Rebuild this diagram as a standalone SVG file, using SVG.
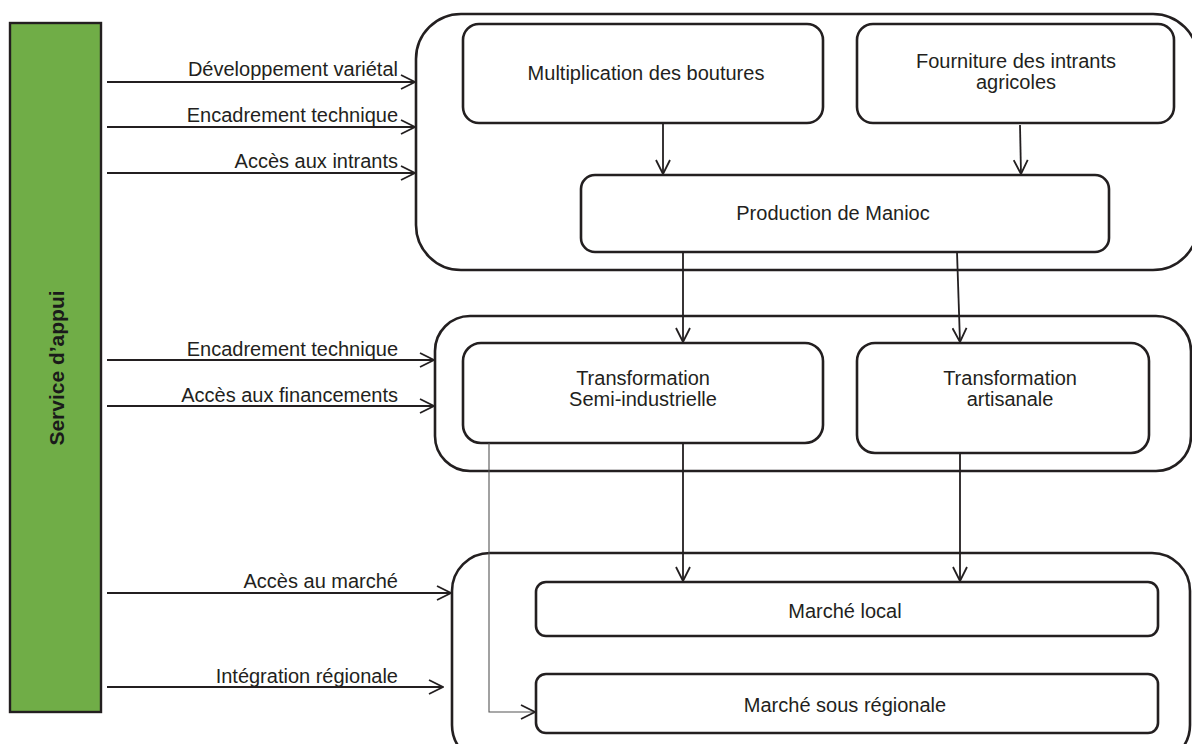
<svg xmlns="http://www.w3.org/2000/svg" width="1192" height="744" viewBox="0 0 1192 744">
<defs>
<style>
.box{fill:#fff;stroke:#231f20;stroke-width:2.6}
.cont{fill:#fff;stroke:#231f20;stroke-width:2.6}
.t{font-family:"Liberation Sans",Arial,sans-serif;font-size:20px;fill:#231f20}
.lbl{font-family:"Liberation Sans",Arial,sans-serif;font-size:20px;fill:#231f20;text-anchor:end}
.c{text-anchor:middle}
.ln{fill:none;stroke:#231f20;stroke-width:1.8}
.thin{fill:none;stroke:#555;stroke-width:1.1}
</style>
<marker id="ah" viewBox="0 0 16 16" refX="15" refY="8" markerWidth="16" markerHeight="16" markerUnits="userSpaceOnUse" orient="auto">
<path d="M1,1 L15,8 L1,15" fill="none" stroke="#231f20" stroke-width="1.8"/>
</marker>
</defs>
<rect width="1192" height="744" fill="#fff"/>

<g id="service">
<rect x="10" y="23" width="91" height="689" fill="#70ad47" stroke="#231f20" stroke-width="2.4"/>
<text transform="translate(64,368) rotate(-90)" class="c" font-family="Liberation Sans,Arial,sans-serif" font-size="21" font-weight="bold" fill="#1a1a1a">Service d’appui</text>
</g>

<g id="production-group">
<rect class="cont" x="416" y="14" width="782" height="256" rx="45"/>
</g>
<g id="multiplication">
<rect class="box" x="463" y="24" width="360" height="99" rx="16"/>
<text class="t c" x="646" y="80">Multiplication des boutures</text>
</g>
<g id="fourniture">
<rect class="box" x="857" y="24" width="317" height="99" rx="16"/>
<text class="t c" x="1016" y="68">Fourniture des intrants</text>
<text class="t c" x="1016" y="89">agricoles</text>
</g>
<g id="production">
<rect class="box" x="581" y="175" width="528" height="77" rx="14"/>
<text class="t c" x="833" y="220">Production de Manioc</text>
</g>

<g id="transformation-group">
<rect class="cont" x="435" y="316" width="756" height="155" rx="35"/>
</g>
<g id="semi">
<rect class="box" x="463" y="343" width="360" height="100" rx="18"/>
<text class="t c" x="643" y="385">Transformation</text>
<text class="t c" x="643" y="406">Semi-industrielle</text>
</g>
<g id="artisanale">
<rect class="box" x="857" y="343" width="292" height="110" rx="18"/>
<text class="t c" x="1010" y="385">Transformation</text>
<text class="t c" x="1010" y="406">artisanale</text>
</g>

<g id="marche-group">
<rect class="cont" x="452" y="553" width="738" height="210" rx="38"/>
</g>
<g id="marche-local">
<rect class="box" x="536" y="582" width="622" height="54" rx="10"/>
<text class="t c" x="845" y="618">Marché local</text>
</g>
<g id="marche-sous">
<rect class="box" x="536" y="674" width="622" height="59" rx="10"/>
<text class="t c" x="845" y="712">Marché sous régionale</text>
</g>

<g id="connectors">
<line class="ln" x1="107" y1="82" x2="415" y2="82" marker-end="url(#ah)"/>
<line class="ln" x1="107" y1="127" x2="415" y2="127" marker-end="url(#ah)"/>
<line class="ln" x1="107" y1="173" x2="415" y2="173" marker-end="url(#ah)"/>
<line class="ln" x1="107" y1="360" x2="434" y2="360" marker-end="url(#ah)"/>
<line class="ln" x1="107" y1="406" x2="434" y2="406" marker-end="url(#ah)"/>
<line class="ln" x1="107" y1="593" x2="451" y2="593" marker-end="url(#ah)"/>
<line class="ln" x1="107" y1="687" x2="443" y2="687" marker-end="url(#ah)"/>
<line class="ln" x1="663" y1="123" x2="663" y2="174" marker-end="url(#ah)"/>
<line class="ln" x1="1020" y1="125" x2="1021" y2="174" marker-end="url(#ah)"/>
<line class="ln" x1="683" y1="252" x2="683" y2="342" marker-end="url(#ah)"/>
<line class="ln" x1="957" y1="252" x2="960" y2="342" marker-end="url(#ah)"/>
<line class="ln" x1="683" y1="443" x2="683" y2="581" marker-end="url(#ah)"/>
<line class="ln" x1="960" y1="453" x2="960" y2="581" marker-end="url(#ah)"/>
<path class="thin" d="M489,443 V712 H535" marker-end="url(#ah)"/>
</g>

<g id="labels">
<text class="lbl" x="398" y="76">Développement variétal</text>
<text class="lbl" x="398" y="122">Encadrement technique</text>
<text class="lbl" x="398" y="168">Accès aux intrants</text>
<text class="lbl" x="398" y="356">Encadrement technique</text>
<text class="lbl" x="398" y="402">Accès aux financements</text>
<text class="lbl" x="398" y="588">Accès au marché</text>
<text class="lbl" x="398" y="683">Intégration régionale</text>
</g>
</svg>
